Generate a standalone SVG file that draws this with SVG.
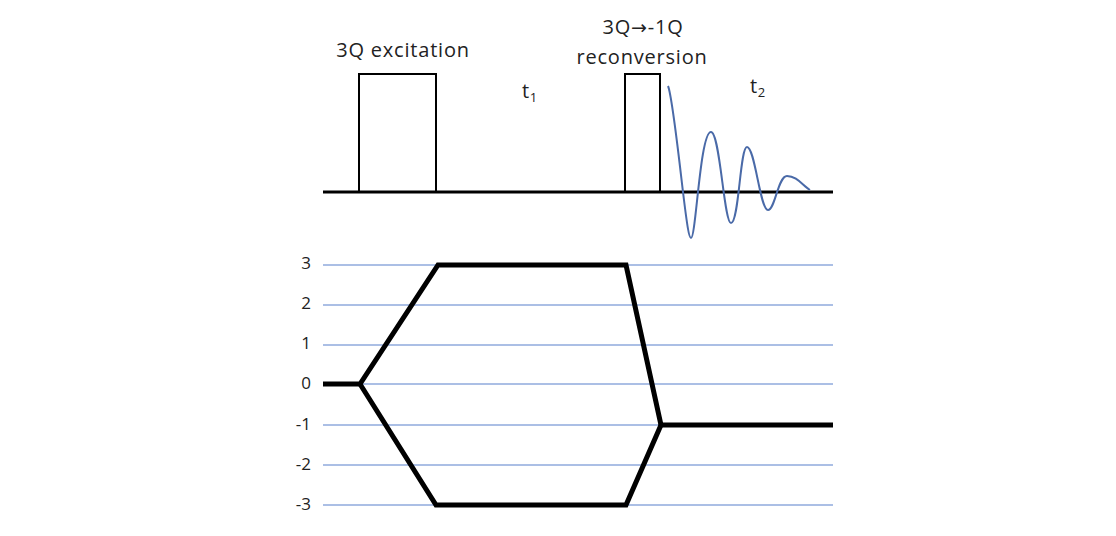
<svg xmlns="http://www.w3.org/2000/svg" width="1116" height="536" viewBox="0 0 1116 536">
<style>
text{font-family:"Open Sans","Liberation Sans",sans-serif;fill:#222}
.lbl{font-size:20px;text-anchor:middle;letter-spacing:0.8px}
.ax{font-size:17px;text-anchor:end}
.grid{stroke:#8faadc;stroke-width:1.3}
.pulse{fill:none;stroke:#000;stroke-width:2}
.path{fill:none;stroke:#000;stroke-width:5;stroke-linejoin:miter}
</style>
<rect width="1116" height="536" fill="#fff"/>
<g id="sequence">
<line x1="323" y1="192" x2="833" y2="192" stroke="#000" stroke-width="3"/>
<polyline class="pulse" points="359,192 359,74 436,74 436,192"/>
<polyline class="pulse" points="625,192 625,74 660,74 660,192"/>
<path d="M668,86 C672,95 678,150 683,192 C687,225 689,238 691,238 C696,238 700,132 711,132 C720,132 724,223 731,223 C739,223 740,147 747,147 C755,147 760,210 768,210 C775,210 778,176 787,176 C797,176 803,186 810,190" fill="none" stroke="#4a6aa8" stroke-width="2"/>
</g>
<g id="labels">
<text class="lbl" x="403" y="57">3Q excitation</text>
<text class="lbl" x="643" y="34">3Q<tspan font-family="DejaVu Sans" font-size="19">→</tspan>-1Q</text>
<text class="lbl" x="642" y="64">reconversion</text>
<text class="lbl" x="530" y="98">t<tspan font-size="13" dy="4">1</tspan></text>
<text class="lbl" x="758" y="93">t<tspan font-size="13" dy="4">2</tspan></text>
</g>
<g id="axis">
<line class="grid" x1="323" y1="265" x2="833" y2="265"/>
<line class="grid" x1="323" y1="305" x2="833" y2="305"/>
<line class="grid" x1="323" y1="345" x2="833" y2="345"/>
<line class="grid" x1="323" y1="384" x2="833" y2="384"/>
<line class="grid" x1="323" y1="425" x2="833" y2="425"/>
<line class="grid" x1="323" y1="465" x2="833" y2="465"/>
<line class="grid" x1="323" y1="505" x2="833" y2="505"/>
<text class="ax" x="311" y="269">3</text>
<text class="ax" x="311" y="309">2</text>
<text class="ax" x="311" y="349">1</text>
<text class="ax" x="311" y="389">0</text>
<text class="ax" x="311" y="430">-1</text>
<text class="ax" x="311" y="470">-2</text>
<text class="ax" x="311" y="510">-3</text>
</g>
<g id="connectors">
<polyline class="path" points="323,384 360,384 438,265 626,265 661,425 833,425"/>
<polyline class="path" points="360,384 436,505 626,505 661,425"/>
</g>
</svg>
